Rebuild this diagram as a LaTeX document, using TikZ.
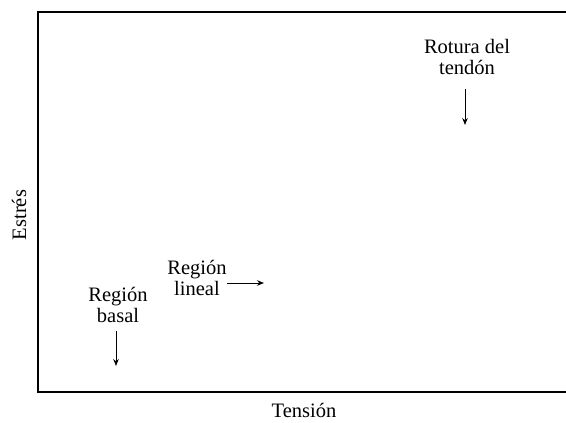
\documentclass[tikz,border=0pt]{standalone}
\usepackage{fontspec}
\setmainfont{Liberation Serif}
\usetikzlibrary{arrows.meta}
\begin{document}
\begin{tikzpicture}[x=1pt,y=1pt,
  lbl/.style={inner sep=0pt, align=center, font=\fontsize{20.5}{21.5}\selectfont},
  arr/.style={line width=0.9pt, -{Stealth[length=7pt,width=5.5pt]}},
  frame/.style={line width=2pt}]
\useasboundingbox (0,0) rectangle (566,423);
\clip (0,0) rectangle (566,423);
\draw[frame] (600,411) -- (38,411) -- (38,31) -- (600,31);
\node[lbl, anchor=base] (rotura) at (467,348) {Rotura del\\tendón};
\node[lbl, anchor=base] (lineal) at (197,127) {Región\\lineal};
\node[lbl, anchor=base] (basal) at (118,100) {Región\\basal};
\node[lbl, rotate=90] (estres) at (19,208) {Estrés};
\node[lbl, anchor=base] (tension) at (304,5) {Tensión};
\coordinate (r1) at (465,334);
\coordinate (r2) at (465,298);
\coordinate (l1) at (227,140);
\coordinate (l2) at (264,140);
\coordinate (b1) at (116,92);
\coordinate (b2) at (116,57);
\draw[arr] (r1) -- (r2);
\draw[arr] (l1) -- (l2);
\draw[arr] (b1) -- (b2);
\end{tikzpicture}
\end{document}
